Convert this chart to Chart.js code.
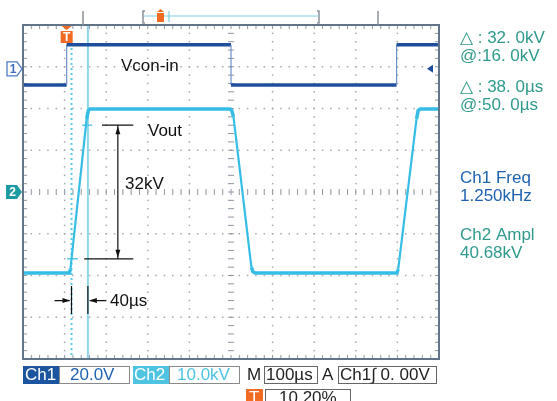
<!DOCTYPE html>
<html><head><meta charset="utf-8">
<script src="https://cdn.jsdelivr.net/npm/chart.js@4.4.1/dist/chart.umd.min.js"></script>
<style>html,body{margin:0;padding:0;background:#fff;}#wrap{width:557px;height:401px;position:relative;}</style>
</head><body><div id="wrap"><canvas id="c" width="557" height="401"></canvas></div>
<script>
// ---- data (time in microseconds across the 10-division screen) ----
const ch1Time  = [0, 105, 105, 500, 500, 898, 898, 1000];
const ch1Volts = [-7.7, -7.7, 11.5, 11.5, -7.7, -7.7, 11.5, 11.5];
const ch2Time  = [0, 111, 114, 153, 157, 161, 498, 502, 506, 549, 553, 558, 899, 902, 946, 950, 955, 1000];
const ch2kV    = [-19.4, -19.4, -18.5, 17.5, 19.5, 19.9, 19.9, 19.5, 18, -18, -19.1, -19.4, -19.4, -18.5, 17.5, 19.5, 19.9, 19.9];
const ch1VoltsPerDiv = 20, ch1OffsetDiv = 2.95;
const ch2kVPerDiv = 10;
const cursorTimes = [116.6, 156];
const cursorLevels = [16, -16];
const xTicks = [0,100,200,300,400,500,600,700,800,900,1000];
const yTicks = [-4,-3,-2,-1,0,1,2,3,4];
const readouts = [["△ : 32. 0kV","#2f9a8c"],["@:16. 0kV","#2f9a8c"],["△ : 38. 0µs","#2f9a8c"],["@:50. 0µs","#2f9a8c"]];
const measures = [["Ch1 Freq","#2063b0"],["1.250kHz","#2063b0"],["Ch2 Ampl","#2f9a8c"],["40.68kV","#2f9a8c"]];

const ch1Pts = ch1Time.map((t,i)=>({x:t,y:ch1Volts[i]/ch1VoltsPerDiv+ch1OffsetDiv}));
const ch2Pts = ch2Time.map((t,i)=>({x:t,y:ch2kV[i]/ch2kVPerDiv}));
const F = '"Liberation Sans", Arial, sans-serif';

const scope = {
  id:'scope',
  beforeDatasetsDraw(chart){
    const {ctx, chartArea:a, scales:{x,y}} = chart;
    ctx.save();
    ctx.fillStyle = '#a8a8a8';
    yTicks.forEach(v=>{ if(v===0||Math.abs(v)===4) return; const py=y.getPixelForValue(v);
      for(let t=0;t<=1000;t+=20){ const px=x.getPixelForValue(t); ctx.fillRect(px-0.75,py-0.75,1.5,1.5);} });
    xTicks.forEach(v=>{ if(v===500||v===0||v===1000) return; const px=x.getPixelForValue(v);
      for(let d=-4;d<=4;d+=0.2){ const py=y.getPixelForValue(d); ctx.fillRect(px-0.75,py-0.75,1.5,1.5);} });
    ctx.strokeStyle='#8c98a4'; ctx.lineWidth=1;
    const cx=x.getPixelForValue(500), cy=y.getPixelForValue(0);
    ctx.beginPath();
    for(let t=0;t<=1000;t+=20){const px=x.getPixelForValue(t); ctx.moveTo(px,cy-3); ctx.lineTo(px,cy+3);}
    for(let d=-4;d<=4;d+=0.2){const py=y.getPixelForValue(d); ctx.moveTo(cx-3,py); ctx.lineTo(cx+3,py);}
    for(let t=0;t<=1000;t+=20){const px=x.getPixelForValue(t); ctx.moveTo(px,a.top); ctx.lineTo(px,a.top+4); ctx.moveTo(px,a.bottom); ctx.lineTo(px,a.bottom-4);}
    for(let d=-4;d<=4;d+=0.2){const py=y.getPixelForValue(d); ctx.moveTo(a.left,py); ctx.lineTo(a.left+4,py); ctx.moveTo(a.right,py); ctx.lineTo(a.right-4,py);}
    ctx.stroke();
    ctx.fillStyle='#b0b8c0';
    for(let t=0;t<=1000;t+=20){const px=x.getPixelForValue(t); ctx.fillRect(px-0.5,cy-0.5,1,1);}
    const c1=x.getPixelForValue(cursorTimes[0]), c2=x.getPixelForValue(cursorTimes[1]);
    ctx.strokeStyle='#5cc8ea'; ctx.lineWidth=2; ctx.setLineDash([2,3]);
    ctx.beginPath(); ctx.moveTo(c1,a.top+18); ctx.lineTo(c1,a.bottom); ctx.stroke();
    ctx.setLineDash([]); ctx.strokeStyle='#8fd6ea'; ctx.lineWidth=2;
    ctx.beginPath(); ctx.moveTo(c2,a.top); ctx.lineTo(c2,a.bottom); ctx.stroke();
    ctx.strokeStyle='#5cc8ea'; ctx.lineWidth=1.5;
    let hy=y.getPixelForValue(cursorLevels[0]/ch2kVPerDiv);
    ctx.beginPath(); ctx.moveTo(x.getPixelForValue(142),hy); ctx.lineTo(x.getPixelForValue(166),hy);
    hy=y.getPixelForValue(cursorLevels[1]/ch2kVPerDiv);
    ctx.moveTo(x.getPixelForValue(106),hy); ctx.lineTo(x.getPixelForValue(132),hy); ctx.stroke();
    ctx.restore();
  },
  afterDatasetsDraw(chart){
    const {ctx, chartArea:a, scales:{x,y}} = chart;
    ctx.save();
    ctx.strokeStyle='#627487'; ctx.lineWidth=2;
    ctx.strokeRect(a.left,a.top,a.right-a.left,a.bottom-a.top);
    ctx.strokeStyle='#111'; ctx.fillStyle='#111'; ctx.lineWidth=1.2;
    const yTop=y.getPixelForValue(cursorLevels[0]/ch2kVPerDiv), yBot=y.getPixelForValue(cursorLevels[1]/ch2kVPerDiv);
    const ax=x.getPixelForValue(228);
    ctx.beginPath();
    ctx.moveTo(x.getPixelForValue(190),yTop); ctx.lineTo(x.getPixelForValue(265),yTop);
    ctx.moveTo(x.getPixelForValue(147),yBot); ctx.lineTo(x.getPixelForValue(265),yBot);
    ctx.moveTo(ax,yTop); ctx.lineTo(ax,yBot); ctx.stroke();
    function tri(px,py,dx,dy){ctx.beginPath();
      if(dy){ctx.moveTo(px,py); ctx.lineTo(px-2.5,py-dy*8); ctx.lineTo(px+2.5,py-dy*8);} else {ctx.moveTo(px,py); ctx.lineTo(px-dx*8,py-2.5); ctx.lineTo(px-dx*8,py+2.5);}
      ctx.closePath(); ctx.fill();}
    tri(ax,yTop+1,0,-1); tri(ax,yBot-1,0,1);
    const c1=x.getPixelForValue(cursorTimes[0]), c2=x.getPixelForValue(cursorTimes[1]);
    const r1=y.getPixelForValue(-2.25), r2=y.getPixelForValue(-2.92), rm=y.getPixelForValue(-2.6);
    ctx.beginPath(); ctx.moveTo(c1,r1); ctx.lineTo(c1,r2); ctx.moveTo(c2,r1); ctx.lineTo(c2,r2);
    ctx.moveTo(c1-17,rm); ctx.lineTo(c1-2,rm); ctx.moveTo(c2+2,rm); ctx.lineTo(c2+18,rm); ctx.stroke();
    tri(c1-1,rm,1,0); tri(c2+1,rm,-1,0);
    ctx.font='17px '+F; ctx.textBaseline='middle'; ctx.fillStyle='#111';
    ctx.fillText('Vcon-in',121,66); ctx.fillText('Vout',148,131); ctx.fillText('32kV',125,184); ctx.fillText('40µs',110,301);
    ctx.strokeStyle='#4f7cc8'; ctx.lineWidth=1.3; ctx.fillStyle='#fff';
    const m1=y.getPixelForValue(ch1OffsetDiv);
    ctx.beginPath(); ctx.moveTo(7,m1-7); ctx.lineTo(17,m1-7); ctx.lineTo(22,m1); ctx.lineTo(17,m1+7); ctx.lineTo(7,m1+7); ctx.closePath(); ctx.fill(); ctx.stroke();
    ctx.fillStyle='#3f6fc0'; ctx.font='bold 12px '+F; ctx.textAlign='center'; ctx.fillText('1',13,m1+0.5);
    const m2=y.getPixelForValue(0);
    ctx.fillStyle='#1d9aa2'; ctx.beginPath(); ctx.moveTo(6,m2-7); ctx.lineTo(17,m2-7); ctx.lineTo(22,m2); ctx.lineTo(17,m2+7); ctx.lineTo(6,m2+7); ctx.closePath(); ctx.fill();
    ctx.fillStyle='#fff'; ctx.fillText('2',12.5,m2+0.5);
    ctx.fillStyle='#1f4f9c'; ctx.beginPath(); ctx.moveTo(427,m1); ctx.lineTo(433,m1-4); ctx.lineTo(433,m1+4); ctx.closePath(); ctx.fill();
    const tx=x.getPixelForValue(105);
    ctx.fillStyle='#f26b22'; ctx.beginPath(); ctx.moveTo(tx-5,a.top+1); ctx.lineTo(tx+5,a.top+1); ctx.lineTo(tx,a.top+5); ctx.closePath(); ctx.fill();
    ctx.fillRect(tx-6,a.top+6,12,12); ctx.fillStyle='#fff'; ctx.font='bold 12px '+F; ctx.fillText('T',tx,a.top+12.5);
    ctx.strokeStyle='#8a929a'; ctx.lineWidth=1.5;
    ctx.beginPath(); ctx.moveTo(83,11); ctx.lineTo(83,25); ctx.moveTo(378,11); ctx.lineTo(378,25);
    ctx.moveTo(145,11); ctx.lineTo(143,11); ctx.lineTo(143,23); ctx.lineTo(145,23);
    ctx.moveTo(317,11); ctx.lineTo(319,11); ctx.lineTo(319,23); ctx.lineTo(317,23); ctx.stroke();
    ctx.strokeStyle='#7fcfe0'; ctx.lineWidth=1.2; ctx.beginPath(); ctx.moveTo(144,16); ctx.lineTo(318,16); ctx.moveTo(169,11); ctx.lineTo(169,22); ctx.stroke();
    ctx.fillStyle='#f26b22'; ctx.fillRect(157,13,7,9); ctx.beginPath(); ctx.moveTo(157,12); ctx.lineTo(164,12); ctx.lineTo(160.5,9); ctx.closePath(); ctx.fill();
    ctx.textAlign='left'; ctx.font='17px '+F;
    const ry=[38,56,87,105];
    readouts.forEach((r,i)=>{ctx.fillStyle=r[1]; ctx.fillText(r[0],460,ry[i]);});
    const my=[178,196,235,253];
    measures.forEach((r,i)=>{ctx.fillStyle=r[1]; ctx.fillText(r[0],460,my[i]);});
    function box(x0,y0,w,h,fill,stroke){ if(fill){ctx.fillStyle=fill; ctx.fillRect(x0,y0,w,h);} if(stroke){ctx.strokeStyle=stroke; ctx.lineWidth=1; ctx.strokeRect(x0+0.5,y0+0.5,w-1,h-1);} }
    ctx.font='17px '+F; ctx.textBaseline='middle';
    box(23,366,36,18,'#1b55a0',null); ctx.fillStyle='#fff'; ctx.fillText('Ch1',25,375.5);
    box(59,366,71,18,null,'#8a8a8a'); ctx.fillStyle='#2063b0'; ctx.fillText('20.0V',70,375.5);
    box(133,366,37,18,'#4fc4e2',null); ctx.fillStyle='#fff'; ctx.fillText('Ch2',134,375.5);
    box(169,366,71,18,null,'#8a8a8a'); ctx.fillStyle='#4fc4e2'; ctx.fillText('10.0kV',177,375.5);
    ctx.fillStyle='#222'; ctx.fillText('M',247,375.5);
    box(264,366,54,18,null,'#666'); ctx.fillStyle='#222'; ctx.fillText('100µs',266,375.5);
    ctx.fillText('A',322,375.5);
    box(338,366,99,18,null,'#666'); ctx.fillStyle='#222'; ctx.fillText('Ch1\u222B 0. 00V',340,375.5);
    box(246,389,17,14,'#f26b22',null); ctx.fillStyle='#fff'; ctx.fillText('T',249,398);
    box(265,389,86,14,null,'#666'); ctx.fillStyle='#222'; ctx.fillText('10.20%',279,398);
    ctx.restore();
  }
};

const steep = c => Math.abs(c.p1.parsed.x - c.p0.parsed.x) < 1;
new Chart(document.getElementById('c'), {
  type:'line',
  data:{datasets:[
    {label:'Ch1',data:ch1Pts,borderColor:'#1f4f9c',borderWidth:3.5,pointRadius:0,tension:0,
     segment:{borderWidth:c=>steep(c)?1.2:3.5, borderColor:c=>steep(c)?'#6d8fcc':'#1f4f9c'}},
    {label:'Ch2',data:ch2Pts,borderColor:'#35bde6',borderWidth:3.5,pointRadius:0,tension:0,
     segment:{borderWidth:c=>Math.abs(c.p1.parsed.y-c.p0.parsed.y)>1?2.2:3.5}}
  ]},
  options:{
    responsive:false, animation:false, events:[],
    layout:{padding:{left:23,top:25,right:118,bottom:42}},
    scales:{
      x:{type:'linear',min:0,max:1000,display:false},
      y:{type:'linear',min:-4,max:4,display:false}
    },
    plugins:{legend:{display:false},tooltip:{enabled:false}}
  },
  plugins:[scope]
});
</script></body></html>
